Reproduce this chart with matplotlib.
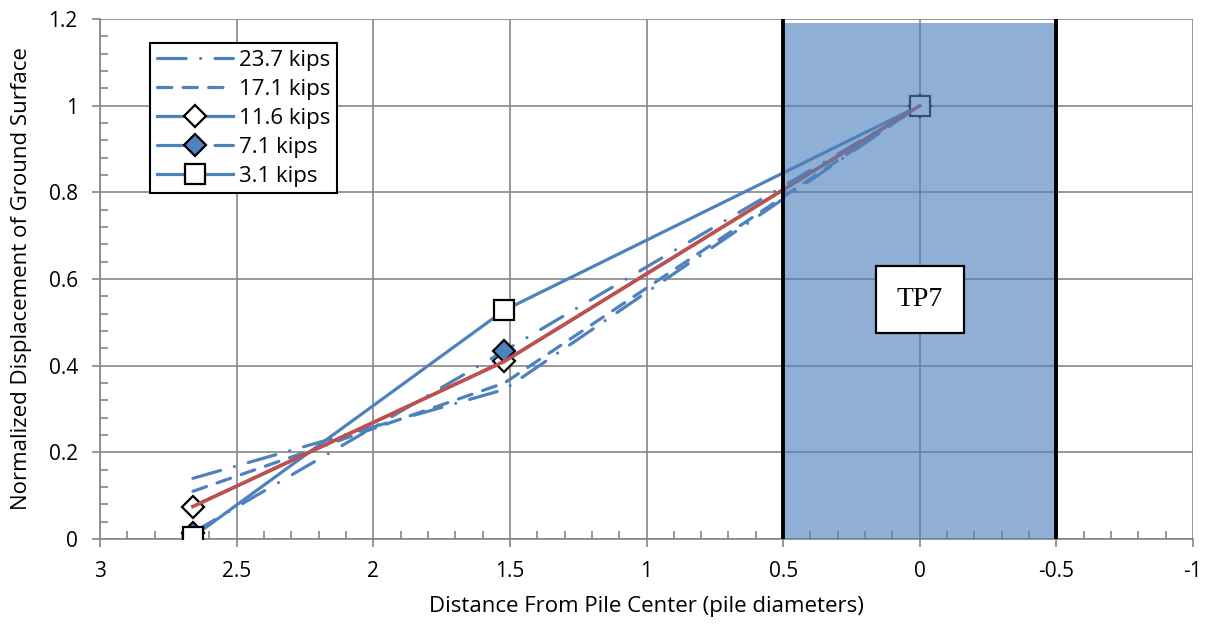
import matplotlib.pyplot as plt
from matplotlib.patches import Rectangle
from matplotlib.ticker import MultipleLocator

plt.rcParams['font.family'] = ['Open Sans', 'DejaVu Sans']
plt.rcParams['axes.unicode_minus'] = False

# distance from pile center (pile diameters)
dist = [2.66, 1.52, 0.0]

# normalized displacement for each load
loads = ['23.7 kips', '17.1 kips', '11.6 kips', '7.1 kips', '3.1 kips']
disp_237 = [0.14, 0.345, 1.0]
disp_171 = [0.11, 0.36, 1.0]
disp_116 = [0.075, 0.41, 1.0]
disp_71 = [0.015, 0.434, 1.0]
disp_31 = [0.005, 0.528, 1.0]

pile_edges = [0.5, -0.5]
pile_name = 'TP7'

xticks = [3, 2.5, 2, 1.5, 1, 0.5, 0, -0.5, -1]
xticklabels = ['3', '2.5', '2', '1.5', '1', '0.5', '0', '-0.5', '-1']
yticks = [0, 0.2, 0.4, 0.6, 0.8, 1.0, 1.2]
yticklabels = ['0', '0.2', '0.4', '0.6', '0.8', '1', '1.2']

blue = '#4F81BD'
red = '#C0504D'
grey = '#868686'
lw = 2.3

fig = plt.figure(figsize=(12.15, 6.29), dpi=100)
ax = fig.add_axes([100 / 1215, 1 - 539 / 629, 1093 / 1215, 520 / 629])

ax.plot(dist, disp_237, color=blue, lw=lw, dash_capstyle='round',
        linestyle=(0, (9, 4.5, 0.01, 4.5)), label=loads[0], zorder=3)
ax.plot(dist, disp_171, color=blue, lw=lw, dash_capstyle='round',
        linestyle=(0, (4.5, 3.5)), label=loads[1], zorder=3)
ax.plot(dist, disp_116, color=blue, lw=lw, marker='D', ms=11,
        mfc='white', mec='black', mew=1.6, label=loads[2], zorder=3)
ax.plot(dist, disp_71, color=blue, lw=lw, dash_capstyle='round',
        linestyle=(0, (8, 5, 0.01, 5)), marker='D', ms=11,
        mfc=blue, mec='black', mew=1.6, label=loads[3], zorder=3)
ax.plot(dist, disp_31, color=blue, lw=lw, marker='s', ms=15,
        mfc='white', mec='black', mew=1.6, label=loads[4], zorder=4)
# red line drawn over the 11.6 kips series
ax.plot(dist, disp_116, color=red, lw=lw + 0.3, zorder=5)

# pile footprint
ax.add_patch(Rectangle((pile_edges[1], 0), pile_edges[0] - pile_edges[1], 1.19,
                       facecolor=blue, alpha=0.63, edgecolor='none', zorder=6))
for xe in pile_edges:
    ax.axvline(xe, color='black', lw=2.8, zorder=7)
ax.text(0, 0.553, pile_name, ha='center', va='center', fontsize=20,
        family='Liberation Serif', zorder=8,
        bbox=dict(boxstyle='square,pad=0.75', fc='white', ec='black', lw=1.6))

ax.set_xlim(3, -1)
ax.set_ylim(0, 1.2)
ax.set_xticks(xticks)
ax.set_xticklabels(xticklabels)
ax.set_yticks(yticks)
ax.set_yticklabels(yticklabels)
ax.xaxis.set_minor_locator(MultipleLocator(0.1))
ax.yaxis.set_minor_locator(MultipleLocator(0.04))
ax.tick_params(which='major', direction='out', length=6, width=1.2,
               color=grey, labelsize=15, pad=10)
ax.tick_params(which='minor', direction='in', length=6, width=1.2, color=grey)
ax.grid(True, which='major', color=grey, lw=1.2, zorder=0)
ax.set_axisbelow(True)
for s in ['top', 'right']:
    ax.spines[s].set_visible(False)
for s in ['left', 'bottom']:
    ax.spines[s].set_color(grey)
    ax.spines[s].set_linewidth(1.2)

ax.set_xlabel('Distance From Pile Center (pile diameters)', fontsize=16, labelpad=10)
ax.set_ylabel('Normalized Displacement of Ground Surface', fontsize=16, labelpad=12)

leg = ax.legend(loc='upper left', bbox_to_anchor=(0.046, 0.954), borderaxespad=0,
                fontsize=16, handlelength=3.4, handletextpad=0.3, labelspacing=0.36,
                fancybox=False, framealpha=1, edgecolor='black', borderpad=0.3)
leg.get_frame().set_linewidth(1.5)
leg.set_zorder(10)

fig.savefig('out.png', dpi=100)
